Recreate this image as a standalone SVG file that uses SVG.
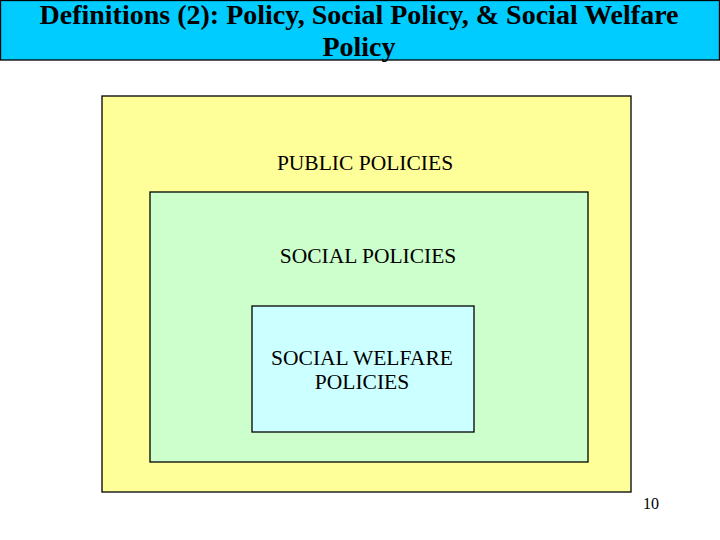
<svg xmlns="http://www.w3.org/2000/svg" width="720" height="540" viewBox="0 0 720 540">
<style>
.t{font-family:"Liberation Serif","Times New Roman",serif;fill:#000;text-anchor:middle}
.title{font-size:28px;font-weight:bold}
.lbl{font-size:21.5px}
.box{stroke:#000;stroke-width:1.3}
</style>
<rect width="720" height="540" fill="#fff"/>
<g id="header">
<rect x="0.5" y="0.5" width="719" height="59.5" fill="#00CCFF" stroke="#000" stroke-width="1.3"/>
<text class="t title" x="359" y="24">Definitions (2): Policy, Social Policy, &amp; Social Welfare</text>
<text class="t title" x="359" y="56">Policy</text>
</g>
<g id="public">
<rect class="box" x="102" y="96" width="529" height="396" fill="#FFFF99"/>
<text class="t lbl" x="365" y="170">PUBLIC POLICIES</text>
</g>
<g id="social">
<rect class="box" x="150" y="192" width="438" height="270" fill="#CCFFCC"/>
<text class="t lbl" x="368" y="263">SOCIAL POLICIES</text>
</g>
<g id="welfare">
<rect class="box" x="252" y="306" width="222" height="126" fill="#CCFFFF"/>
<text class="t lbl" x="362" y="365">SOCIAL WELFARE</text>
<text class="t lbl" x="362" y="389">POLICIES</text>
</g>
<g id="connectors"></g>
<text class="t" x="651" y="509" font-size="16">10</text>
</svg>
